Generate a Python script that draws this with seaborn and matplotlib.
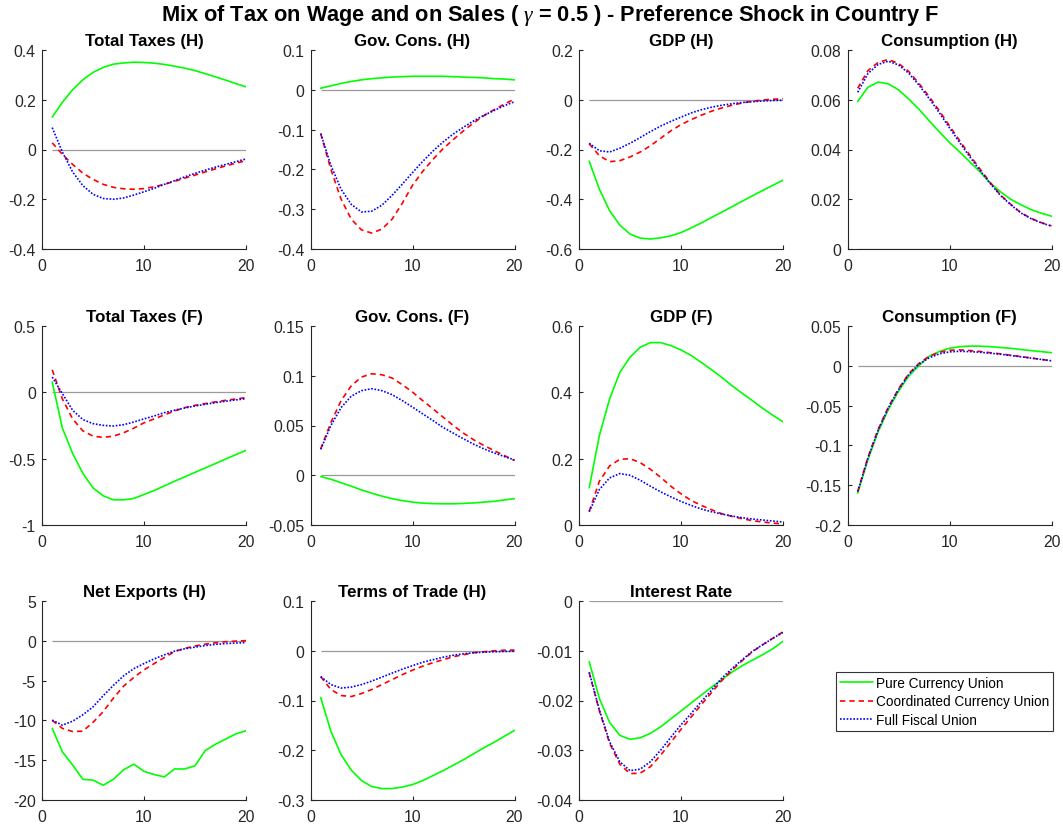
import matplotlib
matplotlib.use("Agg")
import matplotlib.pyplot as plt
from matplotlib.lines import Line2D
import pandas as pd
import seaborn as sns

# ---------------------------------------------------------------------------
# Impulse responses, periods 1..20
# ---------------------------------------------------------------------------
periods = list(range(1, 21))
regimes = ["Pure Currency Union", "Coordinated Currency Union", "Full Fiscal Union"]

taxes_h_pcu = [0.13, 0.19, 0.24, 0.28, 0.31, 0.33, 0.343, 0.348, 0.351, 0.35,
               0.347, 0.342, 0.335, 0.327, 0.317, 0.305, 0.292, 0.279, 0.265, 0.252]
taxes_h_ccu = [0.027, -0.02, -0.06, -0.095, -0.12, -0.14, -0.152, -0.158, -0.16, -0.157,
               -0.15, -0.14, -0.128, -0.115, -0.103, -0.09, -0.078, -0.066, -0.055, -0.045]
taxes_h_ffu = [0.088, -0.01, -0.09, -0.145, -0.18, -0.197, -0.2, -0.195, -0.183, -0.17,
               -0.156, -0.14, -0.125, -0.11, -0.096, -0.083, -0.071, -0.06, -0.049, -0.038]

govc_h_pcu = [0.004, 0.01, 0.016, 0.021, 0.025, 0.028, 0.03, 0.032, 0.033, 0.034,
              0.034, 0.034, 0.034, 0.033, 0.032, 0.031, 0.03, 0.028, 0.027, 0.025]
govc_h_ccu = [-0.11, -0.2, -0.275, -0.325, -0.352, -0.36, -0.35, -0.325, -0.285, -0.24,
              -0.205, -0.175, -0.148, -0.125, -0.103, -0.083, -0.065, -0.05, -0.036, -0.023]
govc_h_ffu = [-0.11, -0.19, -0.25, -0.288, -0.307, -0.305, -0.29, -0.265, -0.237, -0.208,
              -0.18, -0.154, -0.131, -0.111, -0.094, -0.078, -0.064, -0.052, -0.04, -0.03]

gdp_h_pcu = [-0.247, -0.36, -0.446, -0.504, -0.54, -0.556, -0.56, -0.555, -0.547, -0.534,
             -0.515, -0.495, -0.473, -0.452, -0.43, -0.408, -0.386, -0.365, -0.344, -0.323]
gdp_h_ccu = [-0.177, -0.225, -0.249, -0.245, -0.23, -0.21, -0.185, -0.155, -0.125, -0.1,
             -0.08, -0.062, -0.046, -0.033, -0.022, -0.013, -0.006, -0.001, 0.002, 0.004]
gdp_h_ffu = [-0.175, -0.205, -0.21, -0.195, -0.175, -0.152, -0.128, -0.106, -0.087, -0.07,
             -0.053, -0.04, -0.03, -0.022, -0.016, -0.011, -0.008, -0.005, -0.003, -0.002]

cons_h_pcu = [0.0593, 0.065, 0.0671, 0.0664, 0.064, 0.0603, 0.0562, 0.0516, 0.0471, 0.0428,
              0.039, 0.035, 0.031, 0.0265, 0.023, 0.02, 0.0178, 0.0158, 0.0144, 0.0132]
cons_h_ccu = [0.0646, 0.0717, 0.075, 0.0762, 0.0746, 0.0714, 0.0666, 0.0613, 0.0556, 0.0495,
              0.0435, 0.0377, 0.0321, 0.0267, 0.0217, 0.018, 0.0146, 0.0123, 0.0106, 0.0093]
cons_h_ffu = [0.063, 0.0705, 0.0742, 0.0755, 0.074, 0.0707, 0.0659, 0.0605, 0.0548, 0.0487,
              0.0428, 0.037, 0.0315, 0.0263, 0.0215, 0.0178, 0.0145, 0.0122, 0.0105, 0.0092]

taxes_f_pcu = [0.078, -0.27, -0.46, -0.61, -0.72, -0.78, -0.81, -0.81, -0.8, -0.77,
               -0.74, -0.705, -0.67, -0.637, -0.603, -0.57, -0.537, -0.503, -0.47, -0.437]
taxes_f_ccu = [0.17, -0.05, -0.2, -0.29, -0.33, -0.34, -0.33, -0.305, -0.27, -0.23,
               -0.2, -0.17, -0.14, -0.115, -0.098, -0.085, -0.072, -0.06, -0.05, -0.04]
taxes_f_ffu = [0.115, -0.01, -0.135, -0.205, -0.236, -0.249, -0.254, -0.244, -0.224, -0.2,
               -0.178, -0.153, -0.135, -0.118, -0.103, -0.09, -0.078, -0.067, -0.057, -0.048]

govc_f_pcu = [-0.0013, -0.004, -0.0075, -0.011, -0.0148, -0.018, -0.021, -0.0235, -0.0255, -0.027,
              -0.028, -0.0285, -0.0287, -0.0287, -0.0283, -0.0278, -0.027, -0.0262, -0.0248, -0.0235]
govc_f_ccu = [0.0265, 0.053, 0.075, 0.09, 0.0987, 0.102, 0.101, 0.0977, 0.091, 0.0836,
              0.075, 0.0668, 0.0584, 0.05, 0.0423, 0.0356, 0.0299, 0.0248, 0.0198, 0.0148]
govc_f_ffu = [0.026, 0.05, 0.068, 0.0795, 0.085, 0.087, 0.085, 0.081, 0.075, 0.0685,
              0.0617, 0.055, 0.048, 0.0423, 0.0366, 0.0312, 0.0265, 0.0225, 0.0188, 0.0154]

gdp_f_pcu = [0.112, 0.27, 0.38, 0.46, 0.506, 0.536, 0.55, 0.55, 0.541, 0.528,
             0.511, 0.49, 0.468, 0.445, 0.42, 0.397, 0.375, 0.352, 0.331, 0.311]
gdp_f_ccu = [0.041, 0.132, 0.178, 0.198, 0.2, 0.188, 0.168, 0.144, 0.117, 0.094,
             0.074, 0.059, 0.046, 0.034, 0.026, 0.019, 0.013, 0.009, 0.006, 0.003]
gdp_f_ffu = [0.04, 0.107, 0.142, 0.155, 0.15, 0.135, 0.117, 0.1, 0.085, 0.071,
             0.059, 0.048, 0.04, 0.033, 0.027, 0.022, 0.018, 0.015, 0.012, 0.009]

cons_f_pcu = [-0.16, -0.118, -0.083, -0.055, -0.032, -0.013, 0.0, 0.012, 0.018, 0.022,
              0.024, 0.0248, 0.0247, 0.024, 0.023, 0.022, 0.0205, 0.019, 0.0178, 0.0165]
cons_f_ccu = [-0.158, -0.115, -0.08, -0.052, -0.029, -0.01, 0.003, 0.012, 0.017, 0.0195,
              0.02, 0.0192, 0.018, 0.0165, 0.015, 0.0133, 0.0115, 0.0098, 0.008, 0.0063]
cons_f_ffu = [-0.158, -0.116, -0.081, -0.053, -0.03, -0.011, 0.002, 0.01, 0.015, 0.0175,
              0.0182, 0.0178, 0.017, 0.0158, 0.0145, 0.013, 0.0113, 0.0097, 0.008, 0.0063]

nx_h_pcu = [-11.0, -13.95, -15.6, -17.4, -17.5, -18.15, -17.4, -16.2, -15.5, -16.4,
            -16.8, -17.1, -16.1, -16.1, -15.7, -13.8, -13.0, -12.35, -11.7, -11.3]
nx_h_ccu = [-10.0, -11.0, -11.4, -11.35, -10.25, -8.9, -7.2, -5.7, -4.6, -3.65,
            -2.86, -2.1, -1.35, -0.95, -0.65, -0.42, -0.25, -0.12, -0.04, 0.02]
nx_h_ffu = [-9.96, -10.6, -10.1, -9.3, -8.3, -6.9, -5.6, -4.4, -3.5, -2.86,
            -2.27, -1.76, -1.3, -1.0, -0.8, -0.6, -0.45, -0.35, -0.28, -0.22]

tot_h_pcu = [-0.094, -0.162, -0.209, -0.24, -0.261, -0.273, -0.277, -0.277, -0.274, -0.269,
             -0.261, -0.251, -0.241, -0.23, -0.219, -0.207, -0.195, -0.184, -0.172, -0.16]
tot_h_ccu = [-0.052, -0.078, -0.09, -0.092, -0.086, -0.078, -0.068, -0.058, -0.048, -0.039,
             -0.031, -0.024, -0.018, -0.012, -0.008, -0.004, -0.002, 0.0, 0.001, 0.0015]
tot_h_ffu = [-0.052, -0.068, -0.075, -0.073, -0.068, -0.061, -0.053, -0.045, -0.037, -0.03,
             -0.023, -0.018, -0.013, -0.009, -0.006, -0.004, -0.003, -0.002, -0.0015, -0.001]

rate_pcu = [-0.0122, -0.0196, -0.0244, -0.027, -0.0278, -0.0275, -0.0266, -0.0253, -0.0237, -0.0221,
            -0.0205, -0.0189, -0.0173, -0.0158, -0.0143, -0.013, -0.0119, -0.0108, -0.0096, -0.0081]
rate_ccu = [-0.0144, -0.0221, -0.0286, -0.0328, -0.0347, -0.0346, -0.0333, -0.031, -0.0284, -0.0258,
            -0.0233, -0.0208, -0.0184, -0.016, -0.0139, -0.012, -0.0102, -0.0088, -0.0075, -0.0062]
rate_ffu = [-0.0143, -0.0219, -0.0283, -0.0323, -0.0341, -0.0338, -0.0323, -0.03, -0.0274, -0.0249,
            -0.0226, -0.0202, -0.0179, -0.0155, -0.0136, -0.0118, -0.0101, -0.0088, -0.0075, -0.0063]

titles = ["Total Taxes (H)", "Gov. Cons. (H)", "GDP (H)", "Consumption (H)",
          "Total Taxes (F)", "Gov. Cons. (F)", "GDP (F)", "Consumption (F)",
          "Net Exports (H)", "Terms of Trade (H)", "Interest Rate"]
responses = [
    (taxes_h_pcu, taxes_h_ccu, taxes_h_ffu),
    (govc_h_pcu, govc_h_ccu, govc_h_ffu),
    (gdp_h_pcu, gdp_h_ccu, gdp_h_ffu),
    (cons_h_pcu, cons_h_ccu, cons_h_ffu),
    (taxes_f_pcu, taxes_f_ccu, taxes_f_ffu),
    (govc_f_pcu, govc_f_ccu, govc_f_ffu),
    (gdp_f_pcu, gdp_f_ccu, gdp_f_ffu),
    (cons_f_pcu, cons_f_ccu, cons_f_ffu),
    (nx_h_pcu, nx_h_ccu, nx_h_ffu),
    (tot_h_pcu, tot_h_ccu, tot_h_ffu),
    (rate_pcu, rate_ccu, rate_ffu),
]
y_ticks = [
    [-0.4, -0.2, 0, 0.2, 0.4],
    [-0.4, -0.3, -0.2, -0.1, 0, 0.1],
    [-0.6, -0.4, -0.2, 0, 0.2],
    [0, 0.02, 0.04, 0.06, 0.08],
    [-1, -0.5, 0, 0.5],
    [-0.05, 0, 0.05, 0.1, 0.15],
    [0, 0.2, 0.4, 0.6],
    [-0.2, -0.15, -0.1, -0.05, 0, 0.05],
    [-20, -15, -10, -5, 0, 5],
    [-0.3, -0.2, -0.1, 0, 0.1],
    [-0.04, -0.03, -0.02, -0.01, 0],
]
x_ticks = [0, 10, 20]

# ---------------------------------------------------------------------------
# Style
# ---------------------------------------------------------------------------
sns.set_style("ticks")
plt.rcParams["font.family"] = ["Liberation Sans", "DejaVu Sans"]
plt.rcParams["axes.unicode_minus"] = False
plt.rcParams["mathtext.fontset"] = "custom"
plt.rcParams["mathtext.it"] = "Liberation Serif:italic"

axis_color = "#262626"
palette = {regimes[0]: "#00ff00", regimes[1]: "#ff0000", regimes[2]: "#0000ff"}
dash_map = {regimes[0]: "", regimes[1]: (3.2, 2.4), regimes[2]: (1, 1)}
lw = 1.2

W, H = 1063, 829
fig = plt.figure(figsize=(W / 100, H / 100), dpi=100)

col_left = [42, 310.5, 579, 847.5]
row_bottom = [250, 526, 801]
ax_w, ax_h = 204, 199

for i, (title, series) in enumerate(zip(titles, responses)):
    r, c = divmod(i, 4)
    ax = fig.add_axes([col_left[c] / W, 1 - row_bottom[r] / H, ax_w / W, ax_h / H])

    df = pd.concat(
        [pd.DataFrame({"period": periods, "value": vals, "regime": name})
         for name, vals in zip(regimes, series)],
        ignore_index=True,
    )

    ax.hlines(0, periods[0], periods[-1], colors="#9a9a9a", linewidth=0.9, zorder=1)
    sns.lineplot(data=df, x="period", y="value", hue="regime", style="regime",
                 palette=palette, dashes=dash_map, linewidth=lw, legend=False,
                 ax=ax, zorder=2)

    ticks = y_ticks[i]
    ax.set_xlim(x_ticks[0], x_ticks[-1])
    ax.set_ylim(ticks[0], ticks[-1])
    ax.set_xticks(x_ticks)
    ax.set_xticklabels([f"{v:g}" for v in x_ticks])
    ax.set_yticks(ticks)
    ax.set_yticklabels([f"{v:g}" for v in ticks])
    ax.set_xlabel("")
    ax.set_ylabel("")
    ax.set_title(title, fontsize=12.2, fontweight="bold", pad=3.5, color="black")

    for side in ("top", "right"):
        ax.spines[side].set_visible(False)
    for side in ("left", "bottom"):
        ax.spines[side].set_color(axis_color)
        ax.spines[side].set_linewidth(0.8)
    ax.tick_params(direction="in", length=3, width=0.8, colors=axis_color,
                   labelsize=11.3)
    ax.tick_params(axis="x", pad=6.5)
    ax.tick_params(axis="y", pad=4.5)

handles = [
    Line2D([], [], color=palette[regimes[0]], linewidth=lw, linestyle="-"),
    Line2D([], [], color=palette[regimes[1]], linewidth=lw, linestyle=(0, dash_map[regimes[1]])),
    Line2D([], [], color=palette[regimes[2]], linewidth=lw, linestyle=(0, dash_map[regimes[2]])),
]
leg = fig.legend(handles, regimes, loc="upper left",
                 bbox_to_anchor=(836 / W, 1 - 673 / H), fontsize=9.8,
                 frameon=True, fancybox=False, handlelength=2.45,
                 handletextpad=0.2, labelspacing=0.32, borderpad=0.3,
                 borderaxespad=0)
leg.get_frame().set_edgecolor("black")
leg.get_frame().set_linewidth(0.8)
for txt in leg.get_texts():
    txt.set_color("black")

fig.text(0.517, 1 - 20.7 / H,
         r"Mix of Tax on Wage and on Sales ( $\gamma$ = 0.5 ) - Preference Shock in Country F",
         ha="center", va="baseline", fontsize=15.7, fontweight="bold", color="black")

fig.savefig("out.png", dpi=100)
